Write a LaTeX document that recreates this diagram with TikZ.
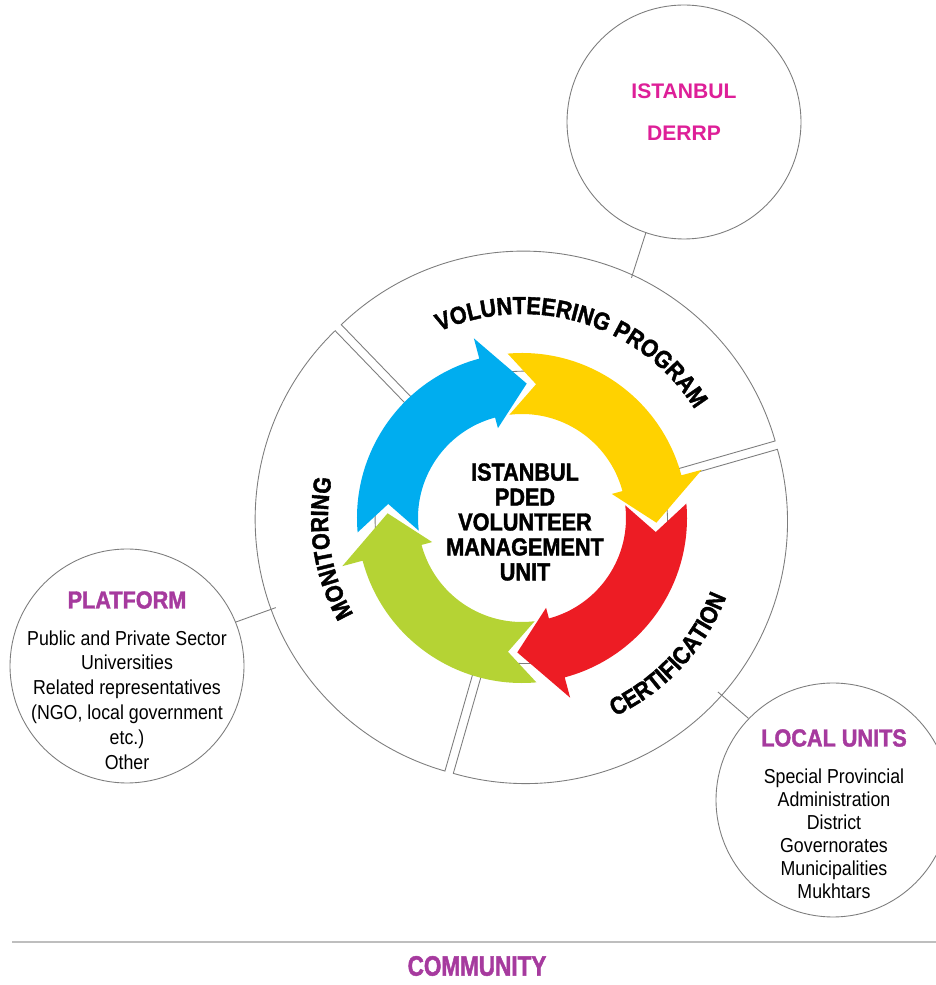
\documentclass[tikz,border=0pt]{standalone}
\usepackage{fontspec}
\setmainfont{Liberation Sans}
\newfontfamily\condfont{Liberation Sans}[FakeStretch=0.88]
\newfontfamily\heavyfont{Liberation Sans Bold}[FakeStretch=0.88, FakeBold=1.6]
\newfontfamily\narrowfont{Liberation Sans Bold}[FakeStretch=0.8, FakeBold=1.6]
\usetikzlibrary{positioning, decorations.text}
\definecolor{cycleBlue}{RGB}{0,173,239}
\definecolor{cycleYellow}{RGB}{255,210,0}
\definecolor{cycleRed}{RGB}{237,28,36}
\definecolor{cycleGreen}{RGB}{181,211,52}
\definecolor{labelPurple}{RGB}{166,58,158}
\definecolor{labelMagenta}{RGB}{222,31,152}
\definecolor{rimGrey}{RGB}{125,125,125}
\newcommand{\ringOuter}{165}
\newcommand{\ringInner}{104}
\newcommand{\ringMid}{134.5}
\newcommand{\barbOuter}{186}
\newcommand{\barbInner}{93}
\newcommand{\headAngle}{17}
\newcommand{\arcFont}{\heavyfont\fontsize{14}{14}\selectfont}
\tikzstyle{sector}=[draw=rimGrey, line width=0.5pt, fill=white]
\tikzstyle{satellite}=[circle, draw=rimGrey, line width=0.5pt, fill=white, minimum size=4.68cm, inner sep=0pt]
\tikzstyle{link}=[draw=rimGrey, line width=0.5pt]
\tikzstyle{title}=[inner sep=0pt, text=labelPurple, font=\heavyfont\fontsize{14}{14}\selectfont]
\tikzstyle{list}=[inner sep=0pt, align=center, font=\condfont\fontsize{11.5}{14.2}\selectfont]
\tikzstyle{hub}=[inner sep=0pt, align=center, font=\heavyfont\fontsize{14}{14.2}\selectfont]
\tikzstyle{derrpText}=[inner sep=0pt, align=center, text=labelMagenta, font=\bfseries\fontsize{12}{24}\selectfont]
\tikzstyle{community}=[inner sep=0pt, text=labelPurple, font=\narrowfont\fontsize{16}{16}\selectfont]
\tikzstyle{rule}=[draw={rgb,255:red,190;green,190;blue,190}, line width=1.5pt]
\newcommand\ringSector{}
\def\ringSector(#1,#2){%
  \draw[sector, shift={({(#1+#2)/2}:5)}] (#1:142) -- (#1:262)
    arc[start angle=#1, end angle=#2, radius=262] -- (#2:142)
    arc[start angle=#2, end angle=#1, radius=142] -- cycle;
}
\newcommand\cycleArrow{}
\def\cycleArrow(#1,#2,#3){%
  \fill[#1] ({#2+7}:\ringOuter)
    arc[start angle={#2+7}, end angle={#3+\headAngle}, radius=\ringOuter]
    -- ({#3+\headAngle}:\barbOuter) -- (#3:\ringMid) -- ({#3+\headAngle}:\barbInner)
    -- ({#3+\headAngle}:\ringInner)
    arc[start angle={#3+\headAngle}, end angle={#2+9}, radius=\ringInner]
    -- ({#2-4}:\ringMid) -- cycle;
}
\newcommand\ringLabel{}
\def\ringLabel(#1,#2,#3)#4{%
  \path[decorate, decoration={text along path, text align=center, text={|\arcFont|#4}}]
    (#1:#3) arc[start angle=#1, end angle=#2, radius=#3];
}

\begin{document}
\begin{tikzpicture}[x=0.02cm, y=0.02cm]
  \useasboundingbox (0,0) rectangle (936,985);
  \clip (0,0) rectangle (936,985);
  \coordinate (C) at (522,467);
  \begin{scope}[shift={(C)}]
    \ringSector(16,134);
    \ringSector(134,254);
    \ringSector(-106,16);
    \cycleArrow(cycleBlue,178,88);
    \cycleArrow(cycleYellow,88,-2);
    \cycleArrow(cycleRed,-2,-92);
    \cycleArrow(cycleGreen,268,178);
    \ringLabel(126,20,204){VOLUNTEERING PROGRAM}
    \ringLabel(229,149,194){MONITORING}
    \ringLabel(-86,0,219){CERTIFICATION}
    \coordinate (volLink) at (65.5:264);
    \coordinate (monLink) at (200:262);
    \coordinate (certLink) at (-41.6:262);
  \end{scope}
  \node[hub] (hub) at (525,463) {ISTANBUL\\PDED\\VOLUNTEER\\MANAGEMENT\\UNIT};

  \node[satellite] (derrp) at (684,863) {};
  \node[derrpText] (derrpName) at (684,873) {ISTANBUL\\DERRP};
  \draw[link] (derrp.251) -- (volLink);

  \node[satellite] (platform) at (127,319) {};
  \node[title] (platformTitle) at (127,385) {PLATFORM};
  \node[list, below=0.42cm of platformTitle] (platformList) {Public and Private Sector\\Universities\\Related representatives\\(NGO, local government\\etc.)\\Other};
  \draw[link] (platform.22) -- (monLink);

  \node[satellite] (local) at (833,185) {};
  \node[title] (localTitle) at (834,247) {LOCAL UNITS};
  \node[list, below=0.43cm of localTitle, font=\condfont\fontsize{11.5}{13.1}\selectfont] (localList) {Special Provincial\\Administration\\District\\Governorates\\Municipalities\\Mukhtars};
  \draw[link] (local.136) -- (certLink);

  \draw[rule] (12,43) -- (936,43);
  \node[community] (communityName) at (477,19) {COMMUNITY};
\end{tikzpicture}
\end{document}
